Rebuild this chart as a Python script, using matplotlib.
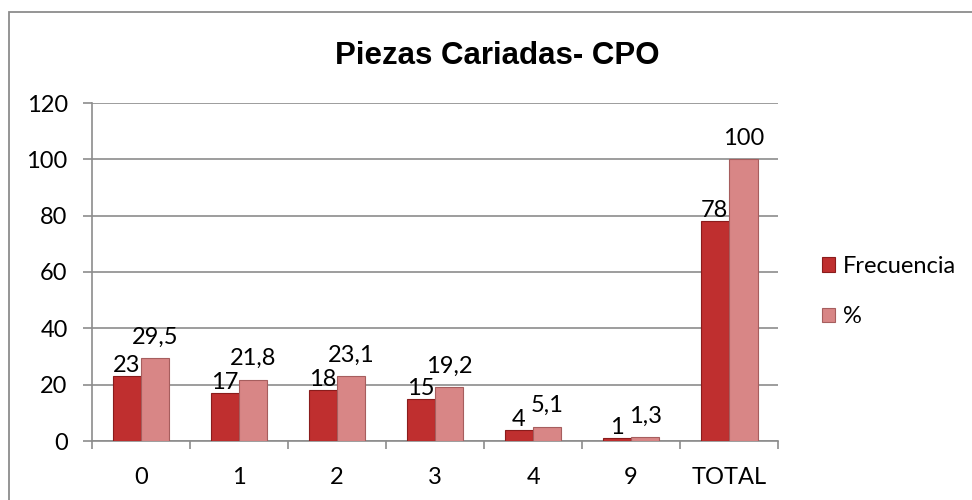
import matplotlib.pyplot as plt
import numpy as np
from matplotlib.patches import Rectangle

categories = ['0', '1', '2', '3', '4', '9', 'TOTAL']
frecuencia = [23, 17, 18, 15, 4, 1, 78]
porcentaje = [29.5, 21.8, 23.1, 19.2, 5.1, 1.3, 100]
series_names = ['Frecuencia', '%']

c_dark = '#bf2f2f'
c_light = '#d88686'
grey = '#8c8c8c'

fig = plt.figure(figsize=(9.72, 5.0), dpi=100)
ax = fig.add_axes([0.0947, 0.118, 0.7058, 0.676])

# outer chart border
fig.patches.append(Rectangle((9 / 972, -0.1), 1.1, 0.1 + (500 - 12) / 500,
                             transform=fig.transFigure, fill=False,
                             edgecolor=grey, linewidth=1.3))

x = np.arange(len(categories))
w = 0.29
b1 = ax.bar(x - w / 2, frecuencia, w, color=c_dark, edgecolor='#8a1c1c', linewidth=0.8,
            label=series_names[0], zorder=3)
b2 = ax.bar(x + w / 2, porcentaje, w, color=c_light, edgecolor='#a65e5e', linewidth=0.8,
            label=series_names[1], zorder=3)

def fmt(v):
    return ('%g' % v).replace('.', ',')

# data labels (comma decimal, as in the original)
for xi, v in zip(x, frecuencia):
    ax.annotate(fmt(v), (xi - w / 2, v), xytext=(0, 7.5), textcoords='offset points',
                ha='center', va='center', fontsize=17, family='Lato', zorder=4)
for xi, v in zip(x, porcentaje):
    ax.annotate(fmt(v), (xi + w / 2, v), xytext=(0, 15), textcoords='offset points',
                ha='center', va='center', fontsize=17, family='Lato', zorder=4)

ax.set_xlim(-0.5, len(categories) - 0.5)
ax.set_ylim(0, 120)
ax.set_yticks(range(0, 121, 20))
ax.set_xticks(x)
ax.set_xticklabels(categories)
ax.set_xticks(np.arange(-0.5, len(categories), 1), minor=True)
ax.tick_params(axis='x', which='major', length=0, pad=19)
ax.tick_params(axis='x', which='minor', length=6, color=grey, width=1.2)
ax.tick_params(axis='y', length=6.5, color=grey, width=1.2, pad=11)
for lab in ax.get_xticklabels() + ax.get_yticklabels():
    lab.set_family('Lato')
    lab.set_fontsize(17)

ax.grid(axis='y', color=grey, linewidth=1.2, zorder=0)
for side in ['top', 'right']:
    ax.spines[side].set_visible(False)
ax.spines['left'].set_color(grey)
ax.spines['bottom'].set_color(grey)
ax.spines['left'].set_linewidth(1.2)
ax.spines['bottom'].set_linewidth(1.2)

fig.text(0.512, 0.888, 'Piezas Cariadas- CPO', ha='center', va='center',
         fontsize=22.5, fontweight='bold', family='Liberation Sans')

fig.legend(handles=[b1, b2], loc='center left', bbox_to_anchor=(0.8457, 0.417),
           frameon=False, handlelength=0.55, handleheight=0.55, borderpad=0,
           borderaxespad=0, labelspacing=1.25, handletextpad=0.34,
           prop={'family': 'Lato', 'size': 17})

fig.savefig('out.png', dpi=100)
